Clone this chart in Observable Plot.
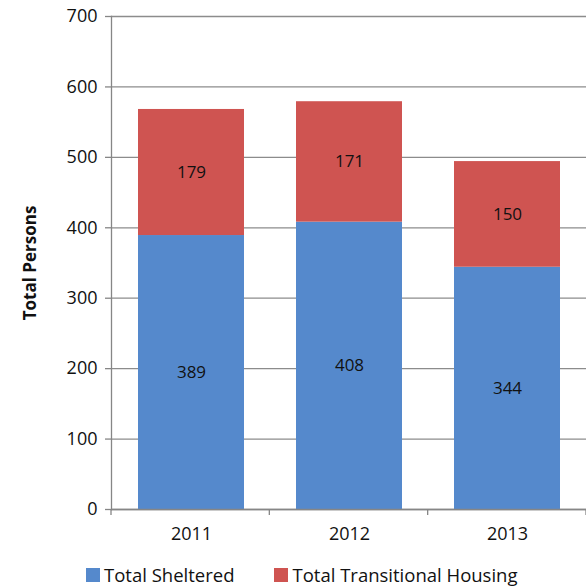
<!DOCTYPE html>
<html>
<head>
<meta charset="utf-8">
<script src="https://cdn.jsdelivr.net/npm/d3@7"></script>
<script src="https://cdn.jsdelivr.net/npm/@observablehq/plot@0.6"></script>
<style>
  body { margin: 0; background: #fff; font-family: "Open Sans", sans-serif; }
  #legend { position: absolute; top: 562px; left: 86px; display: flex; font-size: 18.5px; color: #111; }
  .item { display: flex; align-items: center; }
  .sw { width: 14px; height: 14px; margin-right: 4px; }
</style>
</head>
<body>
<div id="chart"></div>
<div id="legend"></div>
<script>
const years = ["2011", "2012", "2013"];
const sheltered = [389, 408, 344];
const transitional = [179, 171, 150];
const seriesNames = ["Total Sheltered", "Total Transitional Housing"];
const colors = ["#5589cc", "#cf5451"];
const yTicks = [0, 100, 200, 300, 400, 500, 600, 700];

const data = [];
years.forEach((y, i) => {
  data.push({year: y, series: seriesNames[0], value: sheltered[i]});
  data.push({year: y, series: seriesNames[1], value: transitional[i]});
});

const boundaryTicks = (index, scales, values, dims) => {
  const g = d3.create("svg:g");
  const n = years.length;
  const x0 = dims.marginLeft, x1 = dims.width - dims.marginRight;
  const yb = dims.height - dims.marginBottom;
  for (let i = 0; i <= n; i++) {
    const x = x0 + i * (x1 - x0) / n;
    g.append("line").attr("x1", x).attr("x2", x).attr("y1", yb).attr("y2", yb + 6)
      .attr("stroke", "#868686").attr("stroke-width", 1.3);
  }
  return g.node();
};

const chart = Plot.plot({
  width: 586,
  height: 556,
  marginLeft: 111,
  marginRight: 0,
  marginTop: 16,
  marginBottom: 47,
  style: {fontFamily: "Open Sans, sans-serif", fontSize: "17px", color: "#111"},
  x: {domain: years, paddingInner: 0.33, paddingOuter: 0.165, label: null},
  y: {domain: [0, 700], ticks: yTicks, label: null},
  color: {domain: seriesNames, range: colors},
  marks: [
    Plot.gridY(yTicks, {stroke: "#8c8c8c", strokeOpacity: 1, strokeWidth: 1.3}),
    Plot.barY(data, Plot.stackY({x: "year", y: "value", fill: "series", order: seriesNames})),
    Plot.text(data, Plot.stackY({x: "year", y: "value", z: "series", order: seriesNames, text: d => String(d.value), fill: "#111", fontSize: 17})),
    Plot.axisY(yTicks, {tickSize: 6, tickPadding: 8, stroke: "#868686", strokeWidth: 1.3, fontSize: 18, label: null}),
    Plot.axisX({tickSize: 0, tickPadding: 18, fontSize: 18, label: null}),
    Plot.frame({anchor: "left", stroke: "#868686", strokeWidth: 1.3}),
    Plot.ruleY([0], {stroke: "#868686", strokeWidth: 1.3}),
    boundaryTicks,
    Plot.text(["Total Persons"], {frameAnchor: "left", dx: -81, rotate: -90, textAnchor: "middle", fontWeight: "bold", fontSize: 17, fill: "#111"})
  ]
});
document.getElementById("chart").appendChild(chart);

const legend = document.getElementById("legend");
seriesNames.forEach((name, i) => {
  const item = document.createElement("div");
  item.className = "item";
  item.style.marginRight = i === 0 ? "40px" : "0";
  const sw = document.createElement("div");
  sw.className = "sw";
  sw.style.background = colors[i];
  const label = document.createElement("span");
  label.textContent = name;
  item.appendChild(sw);
  item.appendChild(label);
  legend.appendChild(item);
});
</script>
</body>
</html>
